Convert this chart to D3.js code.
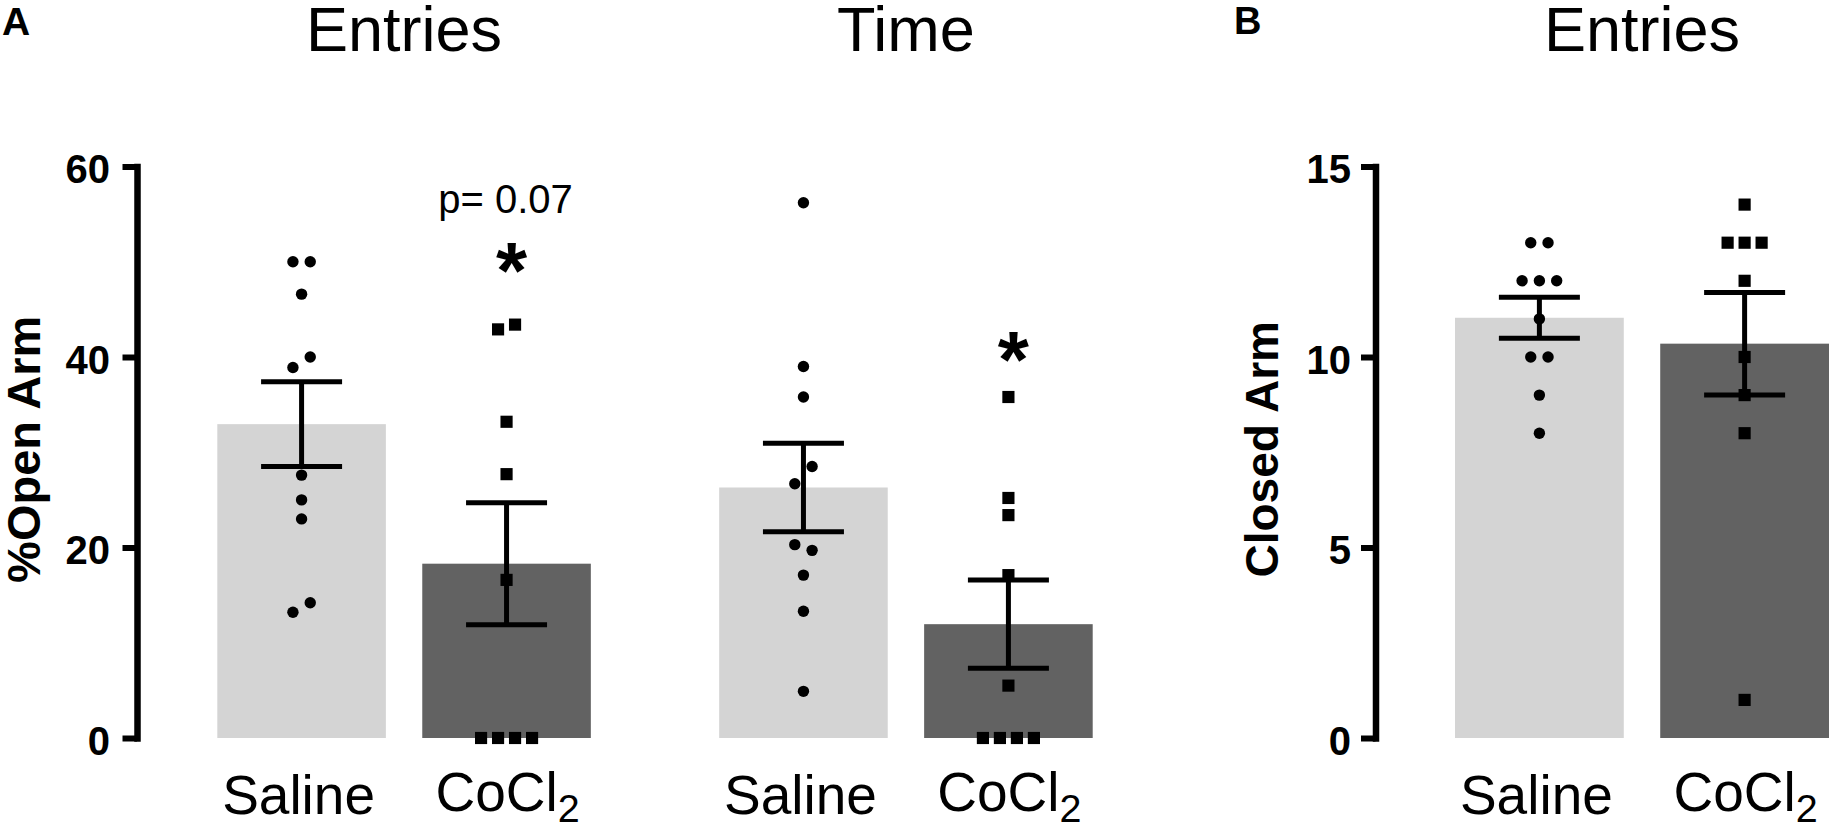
<!DOCTYPE html>
<html>
<head>
<meta charset="utf-8">
<script src="https://cdn.jsdelivr.net/npm/d3@7/dist/d3.min.js"></script>
<style>
  html, body { margin: 0; padding: 0; background: #ffffff; }
  svg { display: block; }
  text { font-family: "Liberation Sans", Arial, Helvetica, sans-serif; fill: #000; }
</style>
</head>
<body>
<script>
// ---------------- data ----------------
const groupsA = ["Entries", "Time"];
const treatments = ["Saline", "CoCl2"];

const entriesSaline = [50.0, 50.0, 46.6, 38.9, 40.0, 27.6, 25.0, 23.0, 13.2, 14.2];
const entriesCoCl2  = [42.9, 43.4, 33.2, 27.7, 16.6, 0, 0, 0, 0];
const timeSaline    = [56.2, 39.0, 35.8, 26.7, 28.5, 20.3, 19.7, 17.1, 13.3, 4.9];
const timeCoCl2     = [35.8, 25.2, 23.4, 17.1, 5.5, 0, 0, 0, 0];
const closedSaline  = [13, 13, 12, 12, 12, 11, 10, 10, 9, 8];
const closedCoCl2   = [14, 13, 13, 13, 12, 10, 9, 8, 1];

// bar means and SEM (Entries-Saline, Entries-CoCl2, Time-Saline, Time-CoCl2)
const meansA = [32.95, 18.3, 26.3, 11.95];
const semA   = [4.45, 6.4, 4.65, 4.63];
const meansB = [11.03, 10.35];
const semB   = [0.535, 1.345];

const ticksA = [0, 20, 40, 60];
const ticksB = [0, 5, 10, 15];

const yLabelA = "%Open Arm";
const yLabelB = "Closed Arm";

// annotations: [group, text, y-value]
const annotA = [
  { group: "Entries", text: "p= 0.07", value: 55.1, kind: "p" },
  { group: "Entries", text: "*", value: 50.6, kind: "star" },
  { group: "Time", text: "*", value: 41.3, kind: "star" }
];

// ---------------- setup ----------------
const W = 1832, H = 826;
const svg = d3.select("body").append("svg").attr("width", W).attr("height", H);
svg.append("rect").attr("width", W).attr("height", H).attr("fill", "#fff");

const fillColor = { "Saline": "#d4d4d4", "CoCl2": "#626262" };
const symbolType = { "Saline": d3.symbolCircle, "CoCl2": d3.symbolSquare };
const symbolSize = { "Saline": Math.PI * 5.7 * 5.7, "CoCl2": 148 };
const clusterThresh = { "Saline": 18.5, "CoCl2": 16 };
const clusterSpacing = { "Saline": 17.3, "CoCl2": 17 };

const yTop = 166.5, yBottom = 738;

// beeswarm-like horizontal layout
function layout(values, y, thresh, spacing) {
  const idx = values.map((v, i) => i).sort((a, b) => values[a] - values[b] || a - b);
  const clusters = [];
  let cur = [];
  idx.forEach((i, k) => {
    if (k === 0) { cur = [i]; return; }
    const prev = cur[cur.length - 1];
    if (Math.abs(y(values[i]) - y(values[prev])) < thresh) cur.push(i);
    else { clusters.push(cur); cur = [i]; }
  });
  if (cur.length) clusters.push(cur);
  const out = [];
  clusters.forEach(c => {
    const members = c.slice().sort((a, b) => a - b);
    const n = members.length;
    members.forEach((i, k) => out.push({ v: values[i], dx: (k - (n - 1) / 2) * spacing }));
  });
  return out;
}

function drawBarGroup(g, xLeft, width, treat, mean, sem, values, y) {
  const cx = xLeft + width / 2;
  g.append("rect")
    .attr("x", xLeft).attr("y", y(mean))
    .attr("width", width).attr("height", y(0) - y(mean))
    .attr("fill", fillColor[treat]);

  const pts = layout(values, y, clusterThresh[treat], clusterSpacing[treat]);
  const sym = d3.symbol().type(symbolType[treat]).size(symbolSize[treat]);
  g.selectAll(null).data(pts).enter().append("path")
    .attr("d", sym)
    .attr("transform", d => `translate(${cx + d.dx},${y(d.v)})`)
    .attr("fill", "#000");

  const capHalf = 40.5;
  const eb = g.append("g").attr("stroke", "#000").attr("stroke-width", 5).attr("fill", "none");
  eb.append("line").attr("x1", cx).attr("x2", cx).attr("y1", y(mean + sem)).attr("y2", y(mean - sem));
  eb.append("line").attr("x1", cx - capHalf).attr("x2", cx + capHalf).attr("y1", y(mean + sem)).attr("y2", y(mean + sem));
  eb.append("line").attr("x1", cx - capHalf).attr("x2", cx + capHalf).attr("y1", y(mean - sem)).attr("y2", y(mean - sem));
}

function xLabel(g, cx, treat) {
  if (treat === "Saline") {
    g.append("text").attr("x", cx - 3).attr("y", 813.5).attr("text-anchor", "middle")
      .attr("font-size", 55).text("Saline");
  } else {
    const t = g.append("text").attr("x", cx + 1).attr("y", 810.5).attr("text-anchor", "middle")
      .attr("font-size", 55);
    t.append("tspan").text("CoCl");
    t.append("tspan").attr("font-size", 39.5).attr("dy", 11).text("2");
  }
}

function styleAxis(ax) {
  ax.select(".domain").attr("stroke", "#000").attr("stroke-width", 6.5).attr("stroke-linecap", "square");
  ax.selectAll(".tick line").attr("stroke", "#000").attr("stroke-width", 6);
  ax.selectAll(".tick text").attr("font-size", 40).attr("font-weight", "bold")
    .attr("font-family", '"Liberation Sans", Arial, sans-serif').attr("fill", "#000").attr("dy", "0.4em");
}

// ---------------- Panel A ----------------
const yA = d3.scaleLinear().domain([0, 60]).range([yBottom, yTop]);
const outerA = d3.scaleBand().domain(groupsA).range([217.3, 1092.7]).paddingInner(0.2557).paddingOuter(0);
const innerA = d3.scaleBand().domain(treatments).range([0, outerA.bandwidth()]).paddingInner(0.1776).paddingOuter(0);

const gA = svg.append("g");
const axA = gA.append("g").attr("transform", "translate(137,0)")
  .call(d3.axisLeft(yA).tickValues(ticksA).tickSize(14.5).tickSizeOuter(0).tickPadding(12.5));
styleAxis(axA);

gA.append("text").attr("transform", `translate(40,${(yTop + yBottom) / 2 - 3}) rotate(-90)`)
  .attr("text-anchor", "middle").attr("font-size", 47).attr("font-weight", "bold").text(yLabelA);

const seriesA = { "Entries": [entriesSaline, entriesCoCl2], "Time": [timeSaline, timeCoCl2] };
groupsA.forEach((grp, gi) => {
  const gx = outerA(grp);
  treatments.forEach((tr, ti) => {
    const k = gi * 2 + ti;
    drawBarGroup(gA, gx + innerA(tr), innerA.bandwidth(), tr, meansA[k], semA[k], seriesA[grp][ti], yA);
    xLabel(gA, gx + innerA(tr) + innerA.bandwidth() / 2, tr);
  });
  gA.append("text").attr("x", gx + outerA.bandwidth() / 2).attr("y", 50.7)
    .attr("text-anchor", "middle").attr("font-size", 63).text(grp);
});

annotA.forEach(a => {
  const cx = outerA(a.group) + innerA("CoCl2") + innerA.bandwidth() / 2;
  if (a.kind === "p") {
    gA.append("text").attr("x", cx - 1).attr("y", yA(a.value)).attr("text-anchor", "middle")
      .attr("font-size", 40).text(a.text);
  } else {
    gA.append("text").attr("x", cx + 5).attr("y", yA(a.value)).attr("dy", "0.53em")
      .attr("text-anchor", "middle").attr("font-size", 80).attr("font-weight", "bold").text(a.text);
  }
});

svg.append("text").attr("x", 2).attr("y", 35).attr("font-size", 39).attr("font-weight", "bold").text("A");

// ---------------- Panel B ----------------
const yB = d3.scaleLinear().domain([0, 15]).range([yBottom, yTop]);
const innerB = d3.scaleBand().domain(treatments).range([1455, 1829]).paddingInner(0.1776).paddingOuter(0);

const gB = svg.append("g");
const axB = gB.append("g").attr("transform", "translate(1375.5,0)")
  .call(d3.axisLeft(yB).tickValues(ticksB).tickSize(14.5).tickSizeOuter(0).tickPadding(10));
styleAxis(axB);

gB.append("text").attr("transform", `translate(1277.5,${(yTop + yBottom) / 2 - 3}) rotate(-90)`)
  .attr("text-anchor", "middle").attr("font-size", 46).attr("font-weight", "bold").text(yLabelB);

const seriesB = [closedSaline, closedCoCl2];
treatments.forEach((tr, ti) => {
  drawBarGroup(gB, innerB(tr), innerB.bandwidth(), tr, meansB[ti], semB[ti], seriesB[ti], yB);
  xLabel(gB, innerB(tr) + innerB.bandwidth() / 2, tr);
});
gB.append("text").attr("x", 1642).attr("y", 50.7).attr("text-anchor", "middle").attr("font-size", 63).text("Entries");

svg.append("text").attr("x", 1234).attr("y", 33.5).attr("font-size", 38).attr("font-weight", "bold").text("B");
</script>
</body>
</html>
